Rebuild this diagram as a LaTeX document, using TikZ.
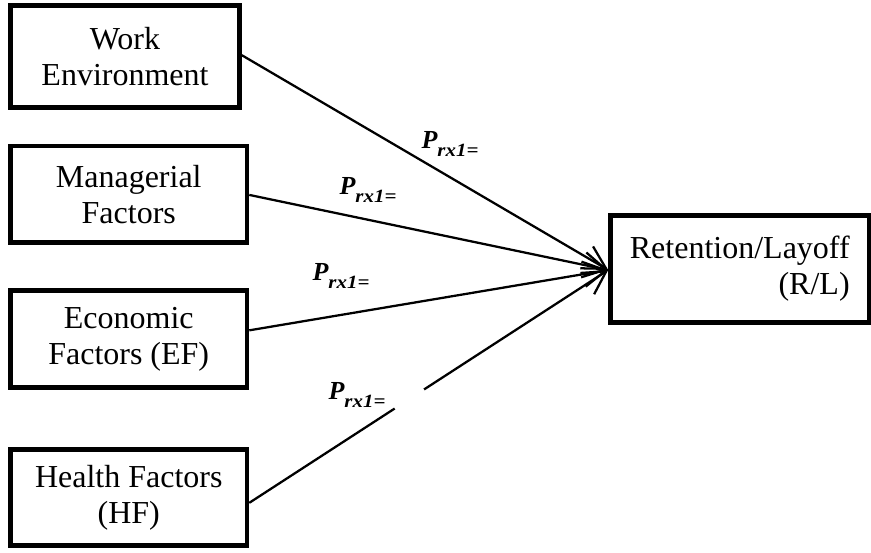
\documentclass[tikz,border=0pt]{standalone}
\usepackage{fontspec}
\setmainfont{Liberation Serif}
\usepackage{graphicx}
\usetikzlibrary{arrows.meta,calc}
\tikzset{
  fbox/.style={draw, line width=3.4pt, rectangle, inner sep=0pt, align=center,
    font=\fontsize{24}{27}\selectfont},
  conn/.style={line width=1.7pt},
  arr/.style={conn, -{Straight Barb[length=17pt,width=19pt,line width=1.7pt]}},
  plab/.style={inner sep=0pt}
}
\newcommand{\prxlabel}{{\fontsize{19.5}{19.5}\selectfont\bfseries\itshape P\raisebox{-0.28em}{\scalebox{1.12}[1]{\fontsize{14}{14}\selectfont\bfseries\itshape rx1=}}}}
\begin{document}
\begin{tikzpicture}[x=0.75pt,y=-0.75pt]
\useasboundingbox (0,0) rectangle (871,553);
\node[fbox, minimum width=171.75pt, minimum height=76.5pt] (we) at (125,56.5) {Work\\Environment};
\node[fbox, minimum width=177.4pt, minimum height=72.4pt] (mf) at (128.75,194.25) {Managerial\\Factors};
\node[fbox, minimum width=177.4pt, minimum height=72.75pt] (ef) at (128.75,339) {Economic\\Factors (EF)};
\node[fbox, minimum width=177.4pt, minimum height=72pt] (hf) at (128.75,497.5) {Health Factors\\(HF)};
\node[fbox, minimum width=193.9pt, minimum height=80.25pt, align=right] (rl) at (739.75,269) {Retention/Layoff\\(R/L)};

\coordinate (wes) at ([yshift=1pt]we.east);
\coordinate (mfs) at ([yshift=-0.5pt]mf.east);
\coordinate (efs) at ([yshift=6.5pt]ef.east);
\coordinate (hfs) at ([yshift=-4pt]hf.east);
\coordinate (tip) at ([yshift=-0.75pt]rl.west);

\draw[arr] (wes) -- (tip);
\draw[arr] (mfs) -- (tip);
\draw[arr] (efs) -- (tip);
\coordinate (g1) at ($(hfs)!0.405!(tip)$);
\coordinate (g2) at ($(hfs)!0.487!(tip)$);
\draw[conn] (hfs) -- (g1);
\draw[arr] (g2) -- (tip);

\node[plab] (l1) at (450,144) {\prxlabel};
\node[plab] (l2) at (368,190) {\prxlabel};
\node[plab] (l3) at (341,276) {\prxlabel};
\node[plab] (l4) at (357,395) {\prxlabel};
\end{tikzpicture}
\end{document}
